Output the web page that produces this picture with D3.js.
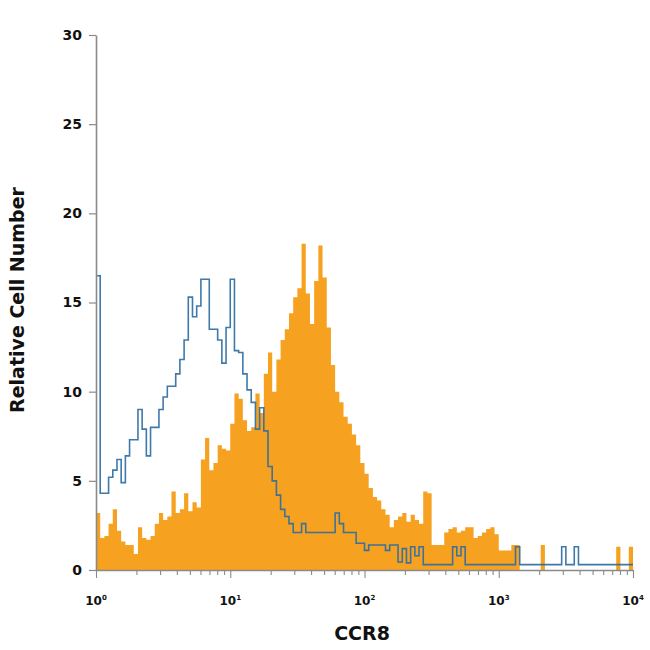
<!DOCTYPE html>
<html>
<head>
<meta charset="utf-8">
<script src="https://cdn.jsdelivr.net/npm/d3@7/dist/d3.min.js"></script>
<style>
  html, body { margin: 0; padding: 0; background: #fff; }
  svg { display: block; }
</style>
</head>
<body>
<svg id="chart" width="650" height="650"></svg>
<script>
// ---- data ----
// 128 log-spaced channels spanning 10^0 .. 10^4 (32 channels per decade)
const channelsPerDecade = 32;
const decades = [0, 1, 2, 3, 4];
const yTicks = [0, 5, 10, 15, 20, 25, 30];

// CCR8 stained sample (filled orange histogram)
const ccr8Counts = [
  3.2, 1.8, 1.9, 2.6, 3.4, 2.2, 1.6, 1.4, 1.4, 0.9,
  2.4, 1.8, 1.7, 1.9, 2.6, 3.2, 2.8, 3.0, 4.4, 3.2,
  3.4, 4.3, 3.3, 3.8, 3.5, 6.2, 7.4, 5.6, 6.0, 7.0,
  6.8, 6.7, 8.2, 9.9, 9.6, 8.4, 7.8, 8.0, 9.9, 8.8,
  11.0, 12.2, 10.0, 11.8, 12.9, 13.5, 14.4, 15.3, 15.8, 18.3,
  15.5, 13.8, 16.2, 18.2, 16.4, 13.6, 11.5, 10.0, 9.4, 8.6,
  8.2, 7.6, 7.0, 6.0, 5.4, 4.6, 4.1, 3.9, 3.4, 3.1,
  2.4, 2.8, 3.0, 3.2, 2.7, 3.1, 2.8, 2.6, 4.4, 4.3,
  1.4, 1.4, 1.4, 2.1, 2.3, 2.4, 2.1, 2.2, 2.4, 2.4,
  1.8, 1.9, 2.1, 2.3, 2.4, 2.0, 1.1, 1.1, 1.1, 1.4,
  1.4, 0, 0, 0, 0, 0, 1.4, 0, 0, 0,
  0, 0, 0, 0, 0, 0, 0, 0, 0, 0,
  0, 0, 0, 0, 1.3, 0, 0, 1.3
];

// Isotype control (blue outline histogram)
const isotypeCounts = [
  16.5, 4.3, 4.3, 5.2, 5.6, 6.2, 4.9, 6.4, 7.3, 7.3,
  9.0, 7.9, 6.4, 8.0, 8.0, 9.0, 9.7, 10.3, 10.3, 11.0,
  11.8, 12.9, 15.3, 14.2, 14.8, 16.3, 16.3, 13.5, 13.5, 12.9,
  11.6, 13.6, 16.3, 12.3, 12.2, 11.0, 10.1, 9.4, 7.9, 9.1,
  7.8, 5.8, 5.0, 4.2, 3.4, 3.0, 2.6, 2.1, 2.1, 2.6,
  2.1, 2.1, 2.1, 2.1, 2.1, 2.1, 2.1, 3.2, 2.6, 2.1,
  2.1, 2.1, 1.5, 1.5, 1.1, 1.4, 1.4, 1.4, 1.4, 1.1,
  1.4, 1.4, 0.45, 1.2, 0.4, 1.3, 0.8, 1.3, 0.3, 0.3,
  0.3, 0.3, 0.3, 0.3, 0.3, 1.3, 0.8, 1.3, 0.3, 0.3,
  0.3, 0.3, 0.3, 0.3, 0.3, 0.3, 0.3, 0.3, 0.3, 0.3,
  1.3, 0.3, 0.3, 0.3, 0.3, 0.3, 0.3, 0.3, 0.3, 0.3,
  0.3, 1.3, 0.3, 0.3, 1.3, 0.3, 0.3, 0.3, 0.3, 0.3,
  0.3, 0.3, 0.3, 0.3, 0.3, 0.3, 0.3, 0.3
];

const xTitle = "CCR8";
const yTitle = "Relative Cell Number";

// ---- layout ----
const svg = d3.select("#chart");
const x = d3.scaleLog().domain([1, 1e4]).range([96, 633]);
const y = d3.scaleLinear().domain([0, 30]).range([570, 35]);

const edge = i => Math.pow(10, i / channelsPerDecade);
const toSteps = counts => counts.map((v, i) => ({ x0: edge(i), v }))
  .concat([{ x0: edge(counts.length), v: counts[counts.length - 1] }]);

const orangeData = toSteps(ccr8Counts);
const blueData = toSteps(isotypeCounts);

const area = d3.area()
  .x(d => x(d.x0))
  .y0(y(0))
  .y1(d => y(d.v))
  .curve(d3.curveStepAfter);

svg.append("path")
  .datum(orangeData)
  .attr("d", area)
  .attr("fill", "#F6A11F");

const line = d3.line()
  .x(d => x(d.x0))
  .y(d => y(d.v))
  .curve(d3.curveStepAfter);

svg.append("path")
  .datum(blueData)
  .attr("d", line)
  .attr("fill", "none")
  .attr("stroke", "#2f6ea3")
  .attr("stroke-width", 1.6)
  .attr("stroke-linejoin", "miter")
  .attr("opacity", 0.92);

// ---- axes ----
const axisColor = "#8a8a8a";
const fontFam = "'DejaVu Sans', 'Liberation Sans', sans-serif";

const yAxis = svg.append("g")
  .attr("transform", `translate(${x(1)},0)`)
  .call(d3.axisLeft(y).tickValues(yTicks).tickSize(7).tickSizeOuter(0).tickPadding(7).tickFormat(d3.format("d")));
yAxis.select(".domain").attr("stroke", axisColor).attr("stroke-width", 1.6);
yAxis.selectAll(".tick line").attr("stroke", axisColor).attr("stroke-width", 1.2);
yAxis.selectAll(".tick text")
  .attr("font-family", fontFam).attr("font-weight", "bold")
  .attr("font-size", 14).attr("fill", "#111");

const minorVals = [];
for (let d = 0; d < 4; d++) for (let k = 1; k < 10; k++) minorVals.push(k * Math.pow(10, d));
minorVals.push(1e4);

const isDecade = v => Math.abs(Math.log10(v) - Math.round(Math.log10(v))) < 1e-9;

const xAxis = svg.append("g")
  .attr("transform", `translate(0,${y(0)})`)
  .call(d3.axisBottom(x).tickValues(minorVals).tickSize(5).tickSizeOuter(0).tickFormat(""));
xAxis.select(".domain").attr("stroke", axisColor).attr("stroke-width", 1.6);
xAxis.selectAll(".tick line").attr("stroke", axisColor).attr("stroke-width", 1.1)
  .attr("y2", d => isDecade(d) ? 8 : 5);

const labG = svg.append("g");
decades.forEach(p => {
  const t = labG.append("text")
    .attr("x", x(Math.pow(10, p)))
    .attr("y", 605)
    .attr("text-anchor", "middle")
    .attr("font-family", fontFam).attr("font-weight", "bold")
    .attr("font-size", 12).attr("fill", "#111");
  t.append("tspan").text("10");
  t.append("tspan").attr("dy", -5).attr("font-size", 7).text(String(p));
});

svg.append("text")
  .attr("x", 362).attr("y", 640)
  .attr("text-anchor", "middle")
  .attr("font-family", fontFam).attr("font-weight", "bold")
  .attr("font-size", 19).attr("fill", "#111")
  .text(xTitle);

svg.append("text")
  .attr("transform", "translate(24,300) rotate(-90)")
  .attr("text-anchor", "middle")
  .attr("font-family", fontFam).attr("font-weight", "bold")
  .attr("font-size", 19).attr("fill", "#111")
  .text(yTitle);
</script>
</body>
</html>
